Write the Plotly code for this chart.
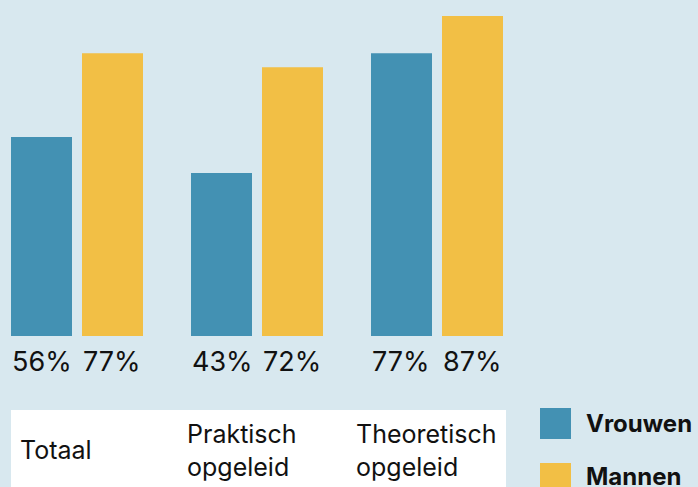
import plotly.graph_objects as go

# ---- data ----
categories = ["Totaal", "Praktisch<br>opgeleid", "Theoretisch<br>opgeleid"]
series_names = ["Vrouwen", "Mannen"]
vrouwen_values = [54.1, 44.3, 76.9]   # bar heights as drawn
mannen_values = [76.9, 73.1, 87.0]
vrouwen_labels = ["56%", "43%", "77%"]
mannen_labels = ["77%", "72%", "87%"]

# ---- style ----
W, H = 698, 487
BG = "#d8e8ef"
BLUE = "#4391b3"
YELLOW = "#f2bf45"
FONT = "Inter"
TXT = "#111111"

UNIT = 180.0          # px per category
X0 = 77.0             # px of first group center
BAR_W = 61.0
PLOT_BOTTOM = 336.0   # px
PX_PER_PCT = 320.0 / 87.0

xs = list(range(len(categories)))

fig = go.Figure()
fig.add_trace(go.Bar(
    x=xs, y=vrouwen_values, name=series_names[0],
    marker=dict(color=BLUE, line=dict(width=0)),
    width=BAR_W / UNIT, offset=-66 / UNIT, hoverinfo="skip",
))
fig.add_trace(go.Bar(
    x=xs, y=mannen_values, name=series_names[1],
    marker=dict(color=YELLOW, line=dict(width=0)),
    width=BAR_W / UNIT, offset=5 / UNIT, hoverinfo="skip",
))

annotations = []
for i in xs:
    for lab, off in ((vrouwen_labels[i], -66), (mannen_labels[i], 5)):
        annotations.append(dict(
            x=i + (off - 1) / UNIT, y=0, xref="x", yref="y",
            xanchor="left", yanchor="top", yshift=-7,
            text=lab, showarrow=False,
            font=dict(family=FONT, size=27, color=TXT),
        ))

# category table labels
cat_px = [18, 185, 354]
for c, px in zip(categories, cat_px):
    annotations.append(dict(
        x=px / W, y=1 - 450 / H, xref="paper", yref="paper",
        xanchor="left", yanchor="middle", align="left",
        text=c, showarrow=False,
        font=dict(family=FONT, size=25, color=TXT),
    ))

# legend text
leg_y = [423, 476]
for name, py in zip(series_names, leg_y):
    annotations.append(dict(
        x=584 / W, y=1 - py / H, xref="paper", yref="paper",
        xanchor="left", yanchor="middle",
        text="<b>" + name + "</b>", showarrow=False,
        font=dict(family=FONT, size=24, color=TXT),
    ))

shapes = [
    dict(type="rect", xref="paper", yref="paper",
         x0=11 / W, x1=506 / W, y0=0, y1=1 - 410 / H,
         fillcolor="white", line=dict(width=0), layer="below"),
    dict(type="rect", xref="paper", yref="paper",
         x0=540 / W, x1=571 / W, y0=1 - 439 / H, y1=1 - 408 / H,
         fillcolor=BLUE, line=dict(width=0)),
    dict(type="rect", xref="paper", yref="paper",
         x0=540 / W, x1=571 / W, y0=1 - 494 / H, y1=1 - 463 / H,
         fillcolor=YELLOW, line=dict(width=0)),
]

fig.update_layout(
    width=W, height=H, autosize=False,
    margin=dict(l=0, r=0, t=0, b=0, pad=0),
    paper_bgcolor=BG, plot_bgcolor=BG,
    barmode="overlay", showlegend=False,
    xaxis=dict(range=[-X0 / UNIT, (W - X0) / UNIT], visible=False, fixedrange=True),
    yaxis=dict(range=[0, PLOT_BOTTOM / PX_PER_PCT], visible=False, fixedrange=True,
               domain=[(H - PLOT_BOTTOM) / H, 1]),
    annotations=annotations, shapes=shapes,
    font=dict(family=FONT),
)

fig.write_html(
    "out.html",
    config={"displayModeBar": False},
    post_script="document.body.style.margin='0';document.body.style.overflow='hidden';",
)
